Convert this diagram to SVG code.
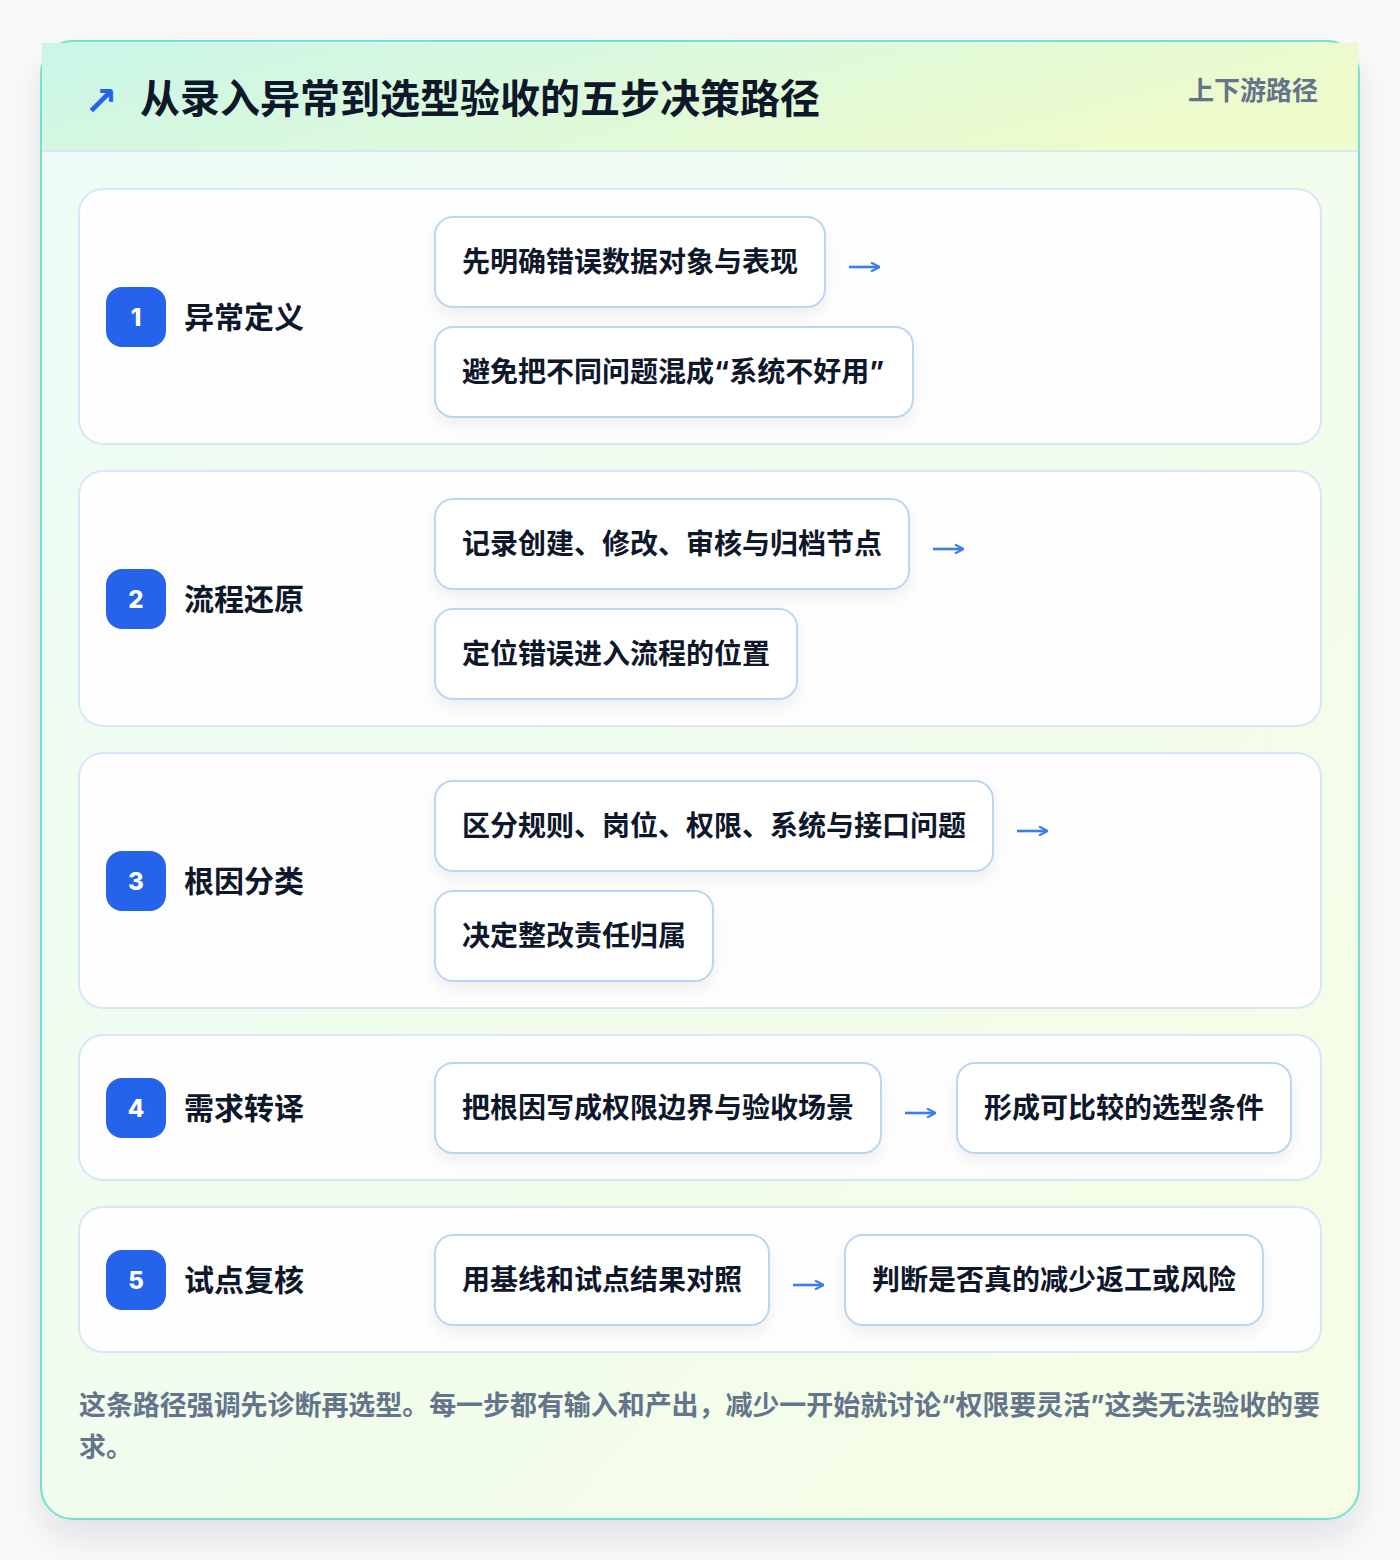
<svg xmlns="http://www.w3.org/2000/svg" width="1400" height="1560" viewBox="0 0 1400 1560">
<defs>
<linearGradient id="cardGrad" x1="0" y1="0" x2="1" y2="1">
<stop offset="0" stop-color="#ecfcf7"/>
<stop offset="1" stop-color="#f6fde4"/>
</linearGradient>
<linearGradient id="headGrad" x1="0" y1="0" x2="1" y2="0.3">
<stop offset="0" stop-color="#c9f6e8"/>
<stop offset="0.5" stop-color="#dcf9dc"/>
<stop offset="1" stop-color="#eefbcb"/>
</linearGradient>
<filter id="cardShadow" x="-10%" y="-10%" width="120%" height="120%">
<feDropShadow dx="0" dy="18" stdDeviation="18" flood-color="#0f172a" flood-opacity="0.10"/>
</filter>
<filter id="boxShadow" x="-10%" y="-20%" width="120%" height="160%">
<feDropShadow dx="0" dy="8" stdDeviation="8" flood-color="#0f172a" flood-opacity="0.06"/>
</filter>
<marker id="ah" viewBox="0 0 10 10" refX="9" refY="5" markerWidth="10" markerHeight="10" markerUnits="userSpaceOnUse" orient="auto">
<path d="M1,0.5 L9.5,5 L1,9.5" fill="none" stroke="#3b7fe6" stroke-width="2.2"/>
</marker>
<style>
.row{fill:#fdfefd;stroke:#d8e6f8;stroke-width:2}
.box{fill:#ffffff;stroke:#bcd5f4;stroke-width:2;filter:url(#boxShadow)}
.badge{fill:#2563eb}
.num{font-family:Inter,"Liberation Sans",sans-serif;font-weight:800;font-size:24px;fill:#ffffff;text-anchor:middle}
.lbl{font-family:"Noto Sans CJK SC","Noto Sans",sans-serif;font-weight:700;font-size:30px;fill:#0f172a}
.bt{font-family:"Noto Sans CJK SC","Noto Sans",sans-serif;font-weight:700;font-size:28px;fill:#0f172a}
.q{font-family:Inter,"Liberation Sans",sans-serif;font-weight:700}
.conn{stroke:#3b7fe6;stroke-width:2.6;fill:none;marker-end:url(#ah)}
</style>
</defs>
<rect x="0" y="0" width="1400" height="1560" fill="#fafafa"/>
<g id="card">
<rect x="41" y="41" width="1318" height="1478" rx="32" fill="url(#cardGrad)" stroke="#6fe3cf" stroke-width="2" filter="url(#cardShadow)"/>
<rect x="42" y="43" width="1316" height="108" fill="url(#headGrad)"/>
<line x1="42" y1="151" x2="1358" y2="151" stroke="#d9e7f5" stroke-width="2"/>
</g>
<g id="header">
<text x="84" y="115" font-family="DejaVu Sans,sans-serif" font-size="40" font-weight="700" fill="#2563eb">↗</text>
<text x="140" y="113" font-family="Noto Sans CJK SC,Noto Sans,sans-serif" font-size="40" font-weight="700" fill="#0f172a">从录入异常到选型验收的五步决策路径</text>
<text x="1318" y="100" text-anchor="end" font-family="Noto Sans CJK SC,Noto Sans,sans-serif" font-size="26" font-weight="700" fill="#64748b">上下游路径</text>
</g>
<g id="step1">
<rect class="row" x="79" y="189" width="1242" height="255" rx="24"/>
<rect class="badge" x="106" y="287" width="60" height="60" rx="16"/>
<text class="num" x="136" y="326">1</text>
<text class="lbl" x="184" y="328">异常定义</text>
<g id="s1a"><rect class="box" x="435" y="217" width="390" height="90" rx="18"/><text class="bt" x="462" y="272">先明确错误数据对象与表现</text></g>
<g id="s1b"><rect class="box" x="435" y="327" width="478" height="90" rx="18"/><text class="bt" x="462" y="382">避免把不同问题混成<tspan class="q">“</tspan>系统不好用<tspan class="q">”</tspan></text></g>
</g>
<g id="step2">
<rect class="row" x="79" y="471" width="1242" height="255" rx="24"/>
<rect class="badge" x="106" y="569" width="60" height="60" rx="16"/>
<text class="num" x="136" y="608">2</text>
<text class="lbl" x="184" y="610">流程还原</text>
<g id="s2a"><rect class="box" x="435" y="499" width="474" height="90" rx="18"/><text class="bt" x="462" y="554">记录创建、修改、审核与归档节点</text></g>
<g id="s2b"><rect class="box" x="435" y="609" width="362" height="90" rx="18"/><text class="bt" x="462" y="664">定位错误进入流程的位置</text></g>
</g>
<g id="step3">
<rect class="row" x="79" y="753" width="1242" height="255" rx="24"/>
<rect class="badge" x="106" y="851" width="60" height="60" rx="16"/>
<text class="num" x="136" y="890">3</text>
<text class="lbl" x="184" y="892">根因分类</text>
<g id="s3a"><rect class="box" x="435" y="781" width="558" height="90" rx="18"/><text class="bt" x="462" y="836">区分规则、岗位、权限、系统与接口问题</text></g>
<g id="s3b"><rect class="box" x="435" y="891" width="278" height="90" rx="18"/><text class="bt" x="462" y="946">决定整改责任归属</text></g>
</g>
<g id="step4">
<rect class="row" x="79" y="1035" width="1242" height="145" rx="24"/>
<rect class="badge" x="106" y="1078" width="60" height="60" rx="16"/>
<text class="num" x="136" y="1117">4</text>
<text class="lbl" x="184" y="1119">需求转译</text>
<g id="s4a"><rect class="box" x="435" y="1063" width="446" height="90" rx="18"/><text class="bt" x="462" y="1118">把根因写成权限边界与验收场景</text></g>
<g id="s4b"><rect class="box" x="957" y="1063" width="334" height="90" rx="18"/><text class="bt" x="984" y="1118">形成可比较的选型条件</text></g>
</g>
<g id="step5">
<rect class="row" x="79" y="1207" width="1242" height="145" rx="24"/>
<rect class="badge" x="106" y="1250" width="60" height="60" rx="16"/>
<text class="num" x="136" y="1289">5</text>
<text class="lbl" x="184" y="1291">试点复核</text>
<g id="s5a"><rect class="box" x="435" y="1235" width="334" height="90" rx="18"/><text class="bt" x="462" y="1290">用基线和试点结果对照</text></g>
<g id="s5b"><rect class="box" x="845" y="1235" width="418" height="90" rx="18"/><text class="bt" x="872" y="1290">判断是否真的减少返工或风险</text></g>
</g>
<g id="connectors">
<path class="conn" d="M849,267 H879"/>
<path class="conn" d="M933,549 H963"/>
<path class="conn" d="M1017,831 H1047"/>
<path class="conn" d="M905,1113 H935"/>
<path class="conn" d="M793,1285 H823"/>
</g>
<g id="footer" font-family="Noto Sans CJK SC,Noto Sans,sans-serif" font-size="27" font-weight="700" fill="#64748b">
<text x="79" y="1415" textLength="1241" lengthAdjust="spacing">这条路径强调先诊断再选型。每一步都有输入和产出，减少一开始就讨论<tspan class="q">“</tspan>权限要灵活<tspan class="q">”</tspan>这类无法验收的要</text>
<text x="79" y="1457">求。</text>
</g>
</svg>
